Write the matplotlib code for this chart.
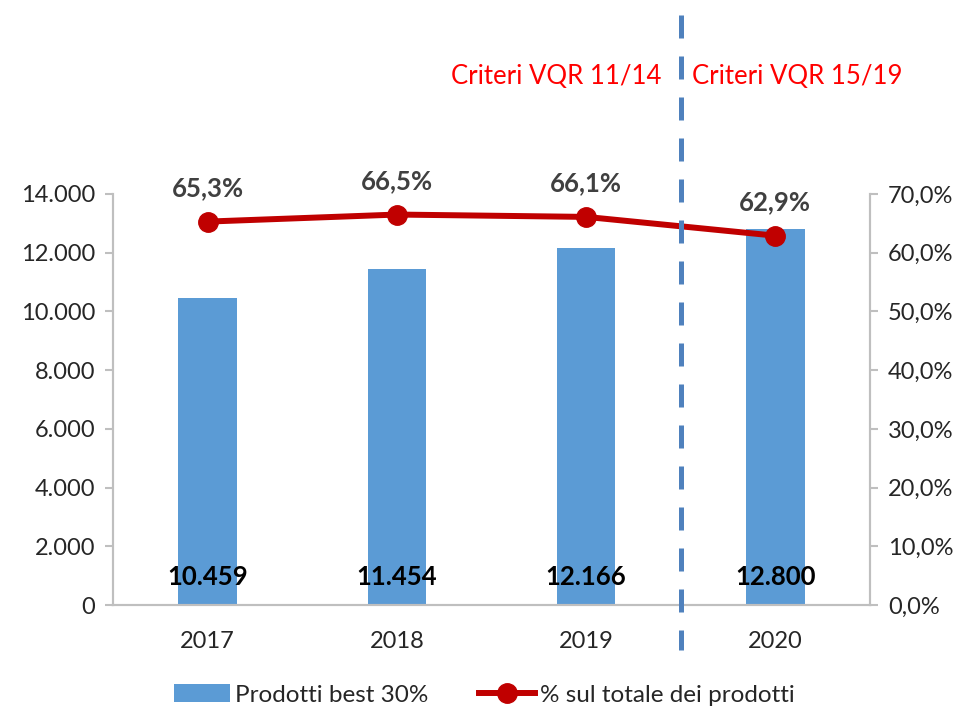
import matplotlib
matplotlib.use("Agg")
import matplotlib.pyplot as plt
import matplotlib.transforms as mtransforms
from matplotlib.ticker import FuncFormatter

plt.rcParams['font.family'] = ['Lato', 'DejaVu Sans']

years = ["2017", "2018", "2019", "2020"]
prodotti_best = [10459, 11454, 12166, 12800]
perc_totale = [65.3, 66.5, 66.1, 62.9]
bar_labels = ["10.459", "11.454", "12.166", "12.800"]
perc_labels = ["65,3%", "66,5%", "66,1%", "62,9%"]
left_ticks = [0, 2000, 4000, 6000, 8000, 10000, 12000, 14000]
right_ticks = [0, 10, 20, 30, 40, 50, 60, 70]
criteria_labels = ["Criteri VQR 11/14", "Criteri VQR 15/19"]

BLUE = "#5B9BD5"
RED = "#C00000"
GRAY = "#BFBFBF"
TXT = "#404040"

fig = plt.figure(figsize=(9.69, 7.11), dpi=100)
ax = fig.add_axes([113/969, 1-605/711, (870-113)/969, (605-194)/711])
ax2 = ax.twinx()

x = list(range(len(years)))
bars = ax.bar(x, prodotti_best, width=0.31, color=BLUE, zorder=2, label="Prodotti best 30%")
ax.set_xlim(-0.5, 3.5)
ax.set_ylim(0, 14000)
ax.set_yticks(left_ticks)
ax.yaxis.set_major_formatter(FuncFormatter(lambda v, p: f"{int(v):,}".replace(",", ".")))
ax.set_xticks(x)
ax.set_xticklabels(years)
ax.tick_params(axis='x', length=0, labelsize=17, colors='#262626', pad=19)
ax.tick_params(axis='y', length=6, width=1.5, color=GRAY, labelsize=17, labelcolor='#262626', pad=7)

ax2.set_ylim(0, 70)
ax2.set_yticks(right_ticks)
ax2.yaxis.set_major_formatter(FuncFormatter(lambda v, p: f"{v:.1f}".replace(".", ",") + "%"))
ax2.tick_params(axis='y', length=6, width=1.5, color=GRAY, labelsize=17, labelcolor='#262626', pad=7)

for a in (ax, ax2):
    a.spines['top'].set_visible(False)
    for s in ('left', 'right', 'bottom'):
        a.spines[s].set_color(GRAY)
        a.spines[s].set_linewidth(1.5)

line, = ax2.plot(x, perc_totale, color=RED, lw=4.3, marker='o', markersize=14,
                 zorder=3, label="% sul totale dei prodotti")

for xi, lab in zip(x, bar_labels):
    ax.text(xi, 950, lab, ha='center', va='center', fontsize=18.5, fontweight='bold', color='black', zorder=4)

for xi, yi, lab in zip(x, perc_totale, perc_labels):
    ax2.annotate(lab, (xi, yi), xytext=(0, 24), textcoords='offset points',
                 ha='center', va='center', fontsize=18.5, fontweight='bold', color=TXT)

# vertical separator
trans = mtransforms.blended_transform_factory(ax2.transData, ax2.transAxes)
sep_x = 2.5
ax2.plot([sep_x, sep_x], [1.436, -0.109], transform=trans, clip_on=False,
         color="#4F81BD", lw=3.6, dashes=(4.6, 3.6), zorder=5)

fig.text(556/969, 1-76/711, criteria_labels[0], ha='center', va='center', fontsize=18.5, color='#FF0000')
fig.text(797/969, 1-76/711, criteria_labels[1], ha='center', va='center', fontsize=18.5, color='#FF0000')

leg = fig.legend(handles=[bars, line], loc='center', bbox_to_anchor=(0.5, 1-695/711),
                 ncol=2, frameon=False, fontsize=17.5, handlelength=2.3, columnspacing=2.1,
                 handletextpad=0.2, labelcolor='#262626')

fig.savefig("out.png", dpi=100)
